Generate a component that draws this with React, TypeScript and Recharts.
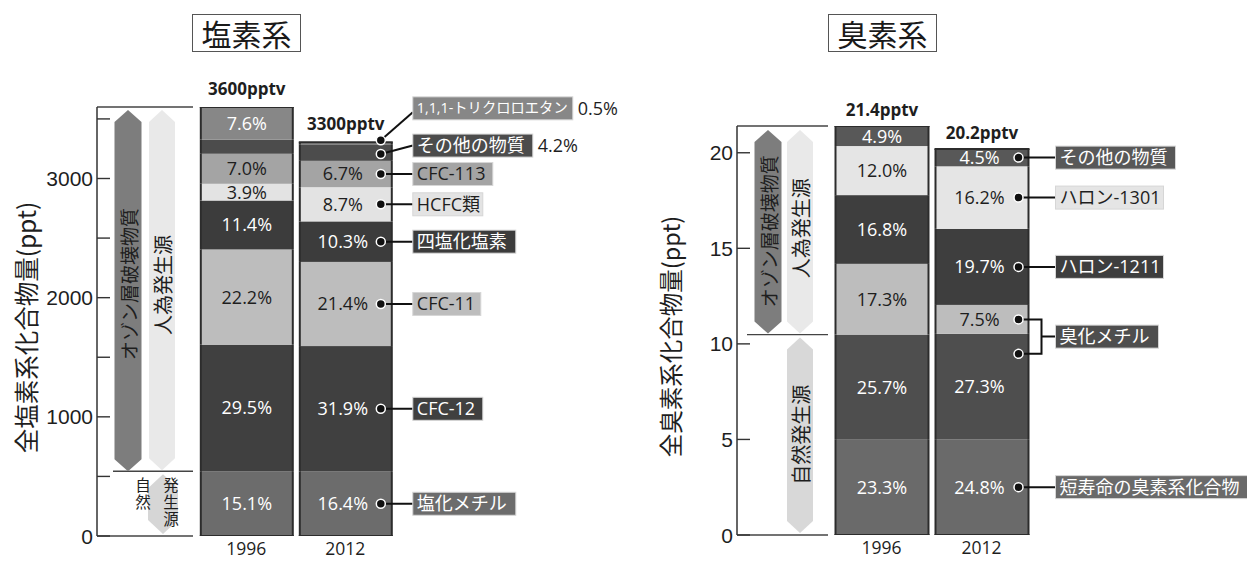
import React from "react";
import { BarChart, Bar, XAxis, YAxis, LabelList, ReferenceArea } from "recharts";

const years = ["1996", "2012"];

// 塩素系 (stacked bottom -> top)
const clTotals = [3600, 3300];
const clNames = ["塩化メチル", "CFC-12", "CFC-11", "四塩化塩素", "HCFC類", "CFC-113", "その他の物質", "1,1,1-トリクロロエタン"];
const clPct1996 = [15.1, 29.5, 22.2, 11.4, 3.9, 7.0, 3.3, 7.6];
const clPct2012 = [16.4, 31.9, 21.4, 10.3, 8.7, 6.7, 4.2, 0.5];
const clTicks = [0, 500, 1000, 1500, 2000, 2500, 3000, 3500];

// 臭素系 (stacked bottom -> top)
const brTotals = [21.4, 20.2];
const brNames = ["短寿命の臭素系化合物", "臭化メチル(自然)", "臭化メチル", "ハロン-1211", "ハロン-1301", "その他の物質"];
const brPct1996 = [23.3, 25.7, 17.3, 16.8, 12.0, 4.9];
const brPct2012 = [24.8, 27.3, 7.5, 19.7, 16.2, 4.5];
const brTicks = [0, 5, 10, 15, 20];

// styling
const FONT = "'Open Sans', 'Noto Sans CJK JP', sans-serif";
const JP = "'Noto Sans CJK JP', sans-serif";
const TICKFONT = "'Liberation Sans', Arial, sans-serif";
const INK = "#1e1e1e";
const EDGE = "#2c2c2c";

const clFill = ["#6c6c6c", "#404040", "#bdbdbd", "#3c3c3c", "#e3e3e3", "#a4a4a4", "#4c4c4c", "#878787"];
const clInkDark = [false, false, true, false, true, true, false, false];
const clHide1996 = [false, false, false, false, false, false, true, false];
const clOutside = [false, false, false, false, false, false, true, true];
const clTagW = [103, 70, 68, 103, 70, 80, 120, 160];
const clTagFont = [18, 18, 18, 18, 18, 18, 18, 14.3];
const clDotDy = [0, 0, 0, 0, 0, 0, 1.5, -3];
const clTagDy = [0, 0, 0, 0, 0, 0, -8.5, -32];

const brFill = ["#6a6a6a", "#4e4e4e", "#bdbdbd", "#3e3e3e", "#e5e5e5", "#585858"];
const brInkDark = [false, false, true, false, true, false];
const brTagFill = ["#6a6a6a", "#4e4e4e", "#4e4e4e", "#3e3e3e", "#e5e5e5", "#585858"];
const brTagDark = [false, false, false, false, true, false];
const brTagW = [192, 0, 103, 108, 108, 120];

const CL_AXIS = 97;
const BR_AXIS = 107;

const buildRows = (totals: number[], pcts: number[][]) =>
  years.map((year, j) => {
    const row: Record<string, number | string> = { year };
    pcts[j].forEach((p, i) => {
      row[`s${i}`] = (totals[j] * p) / 100;
    });
    return row;
  });

const clRows = buildRows(clTotals, [clPct1996, clPct2012]);
const brRows = buildRows(brTotals, [brPct1996, brPct2012]);
const clNatural = (clTotals[0] * clPct1996[0]) / 100;
const brNatural = (brTotals[0] * (brPct1996[0] + brPct1996[1])) / 100;

const fmt = (v: number) => `${v.toFixed(1)}%`;

const hex = (cx: number, w: number, top: number, bottom: number, tip = 12) =>
  `${cx},${top} ${cx + w / 2},${top + tip} ${cx + w / 2},${bottom - tip} ${cx},${bottom} ${cx - w / 2},${bottom - tip} ${cx - w / 2},${top + tip}`;

const segShape = (fill: string, top: boolean, bottom: boolean) => (p: any) => {
  const { x, y, width, height } = p;
  if (width == null || height == null) return <g />;
  const b = y + height;
  return (
    <g>
      <rect x={x} y={y} width={width} height={height} fill={fill} />
      <line x1={x} x2={x} y1={y} y2={b} stroke={EDGE} strokeWidth={2} />
      <line x1={x + width} x2={x + width} y1={y} y2={b} stroke={EDGE} strokeWidth={2} />
      {top && <line x1={x - 1} x2={x + width + 1} y1={y} y2={y} stroke={EDGE} strokeWidth={2} />}
      {bottom && <line x1={x - 1} x2={x + width + 1} y1={b} y2={b} stroke={EDGE} strokeWidth={2} />}
    </g>
  );
};

const Dot = ({ cx, cy }: { cx: number; cy: number }) => (
  <circle cx={cx} cy={cy} r={4.5} fill="#111" stroke="#fff" strokeWidth={1.5} />
);

const Tag = ({ x, cy, w, fill, dark, size, text }: any) => (
  <g>
    <rect x={x} y={cy - 11.5} width={w} height={23} fill={fill} stroke="#d6d6d6" strokeWidth={1} />
    <text x={x + 4} y={cy} dy="0.36em" fontSize={size} fill={dark ? INK : "#fff"} fontFamily={FONT}>
      {text}
    </text>
  </g>
);

const pctText = (key: string, x: number, cy: number, dark: boolean, anchor = "middle") => (
  <text key={key} x={x} y={cy} dy="0.36em" textAnchor={anchor} fontSize={18} fill={dark ? INK : "#fff"} fontFamily={FONT}>
    {key}
  </text>
);

const clLabel = (i: number) => (props: any) => {
  const vb = props.viewBox ?? props;
  const { x, y, width: w, height: h } = vb;
  const j = props.index ?? (x > 296 ? 1 : 0);
  const cy = y + h / 2;
  const parts: React.ReactNode[] = [];
  if (i === clNames.length - 1) {
    parts.push(
      <text key="tot" x={x + w / 2} y={y - 12} textAnchor="middle" fontSize={17} fontWeight={700} fill={INK} fontFamily={FONT}>
        {`${clTotals[j]}pptv`}
      </text>
    );
  }
  if (j === 0) {
    if (!clHide1996[i]) parts.push(pctText(fmt(clPct1996[i]), x + w / 2, cy, clInkDark[i]));
  } else {
    const dotX = x + w - 11;
    const dotY = cy + clDotDy[i];
    const tagX = x + w + 21;
    const tagY = dotY + clTagDy[i];
    if (!clOutside[i]) parts.push(pctText(fmt(clPct2012[i]), x + w / 2 - 3, cy, clInkDark[i]));
    parts.push(<line key="ln" x1={dotX} y1={dotY} x2={tagX} y2={tagY + (i === 7 ? 4 : 0)} stroke="#111" strokeWidth={2} />);
    parts.push(<Dot key="dot" cx={dotX} cy={dotY} />);
    parts.push(
      <Tag key="tag" x={tagX} cy={tagY} w={clTagW[i]} fill={clFill[i]} dark={clInkDark[i]} size={clTagFont[i]} text={clNames[i]} />
    );
    if (clOutside[i]) {
      parts.push(
        <text key="out" x={tagX + clTagW[i] + 5} y={tagY} dy="0.36em" fontSize={18} fill={INK} fontFamily={FONT}>
          {fmt(clPct2012[i])}
        </text>
      );
    }
  }
  return <g>{parts}</g>;
};

const brLabel = (i: number) => (props: any) => {
  const vb = props.viewBox ?? props;
  const { x, y, width: w, height: h } = vb;
  const j = props.index ?? (x > 301 ? 1 : 0);
  const cy = y + h / 2;
  const parts: React.ReactNode[] = [];
  if (i === brNames.length - 1) {
    parts.push(
      <text key="tot" x={x + w / 2} y={y - 10} textAnchor="middle" fontSize={17} fontWeight={700} fill={INK} fontFamily={FONT}>
        {`${brTotals[j].toFixed(1)}pptv`}
      </text>
    );
  }
  if (j === 0) {
    parts.push(pctText(fmt(brPct1996[i]), x + w / 2, cy, brInkDark[i]));
  } else {
    parts.push(pctText(fmt(brPct2012[i]), x + w / 2 - 2.5, cy, brInkDark[i]));
    if (i === 1) return <g>{parts}</g>;
    const dotX = x + w - 10;
    const tagX = x + w + 27;
    if (i === 2) {
      const cy2 = y + h + 20;
      const bx = x + w + 13;
      const mid = (cy + cy2) / 2;
      parts.push(
        <path key="br" d={`M${dotX},${cy} H${bx} V${cy2} H${dotX} M${bx},${mid} H${tagX}`} fill="none" stroke="#111" strokeWidth={2} />
      );
      parts.push(<Dot key="d1" cx={dotX} cy={cy} />);
      parts.push(<Dot key="d2" cx={dotX} cy={cy2} />);
      parts.push(<Tag key="tag" x={tagX} cy={mid} w={brTagW[i]} fill={brTagFill[i]} dark={brTagDark[i]} size={18} text={brNames[i]} />);
    } else {
      parts.push(<line key="ln" x1={dotX} y1={cy} x2={tagX} y2={cy} stroke="#111" strokeWidth={2} />);
      parts.push(<Dot key="dot" cx={dotX} cy={cy} />);
      parts.push(<Tag key="tag" x={tagX} cy={cy} w={brTagW[i]} fill={brTagFill[i]} dark={brTagDark[i]} size={18} text={brNames[i]} />);
    }
  }
  return <g>{parts}</g>;
};

const yTick = (axisX: number, labelEvery: number) => (p: any) => {
  const { y, payload } = p;
  const v = payload.value;
  return (
    <g>
      <line x1={axisX} x2={axisX + 13} y1={y} y2={y} stroke="#333" strokeWidth={1.4} />
      {v % labelEvery === 0 && (
        <text x={axisX - 4} y={y} dy="0.36em" textAnchor="end" fontSize={21} fill={INK} fontFamily={TICKFONT}>
          {v}
        </text>
      )}
    </g>
  );
};

const xTick = (p: any) => (
  <text x={p.x} y={p.y} dy={19} textAnchor="middle" fontSize={17.5} fill={INK} fontFamily={FONT}>
    {p.payload.value}
  </text>
);

const vText = (cx: number, cy: number, size: number, text: string) => (
  <text
    transform={`translate(${cx},${cy}) rotate(-90)`}
    textAnchor="middle"
    dominantBaseline="central"
    fontSize={size}
    fill={INK}
    fontFamily={JP}
  >
    {text}
  </text>
);

// upright vertical column of characters (縦書き)
const colText = (x: number, y: number, size: number, text: string) => (
  <text
    x={x}
    y={y}
    fontSize={size}
    fill={INK}
    fontFamily={JP}
    letterSpacing={1.5}
    style={{ writingMode: "vertical-rl" }}
  >
    {text}
  </text>
);

// left chart annotations
const clUpper = (p: any) => {
  const top = p.y;
  const bottom = p.y + p.height;
  const mid = (top + bottom) / 2;
  return (
    <g>
      <line x1={CL_AXIS} x2={193} y1={top} y2={top} stroke="#444" strokeWidth={1.4} />
      <line x1={113} x2={193} y1={bottom} y2={bottom} stroke="#444" strokeWidth={1.4} />
      <polygon points={hex(128, 27, top + 3, bottom)} fill="#7d7d7d" />
      <polygon points={hex(162, 26, top + 3, bottom - 1)} fill="#e9e9e9" />
      {vText(128, mid - 5, 19, "オゾン層破壊物質")}
      {vText(162, mid - 4, 20, "人為発生源")}
    </g>
  );
};

const clLower = (p: any) => {
  const top = p.y;
  const bottom = p.y + p.height;
  return (
    <g>
      <line x1={CL_AXIS} x2={193} y1={bottom} y2={bottom} stroke="#444" strokeWidth={1.4} />
      <polygon points={hex(163, 30, top + 3, bottom - 2, 14)} fill="#d6d6d6" />
      {colText(143, top + 6, 15.5, "自然")}
      {colText(171, top + 6, 15.5, "発生源")}
    </g>
  );
};

const clAll = (p: any) => vText(25, p.y + p.height / 2 + 6, 24.5, "全塩素系化合物量(ppt)");

// right chart annotations
const brUpper = (p: any) => {
  const top = p.y;
  const bottom = p.y + p.height;
  const mid = (top + bottom) / 2;
  return (
    <g>
      <line x1={BR_AXIS} x2={198} y1={top} y2={top} stroke="#444" strokeWidth={1.4} />
      <line x1={117} x2={198} y1={bottom} y2={bottom} stroke="#444" strokeWidth={1.4} />
      <polygon points={hex(138, 27, top + 4, bottom - 1)} fill="#7d7d7d" />
      <polygon points={hex(170, 26, top + 4, bottom - 1)} fill="#e9e9e9" />
      {vText(138, mid + 1, 19, "オゾン層破壊物質")}
      {vText(170, mid - 2, 20, "人為発生源")}
    </g>
  );
};

const brLower = (p: any) => {
  const top = p.y;
  const bottom = p.y + p.height;
  return (
    <g>
      <line x1={BR_AXIS} x2={198} y1={bottom} y2={bottom} stroke="#444" strokeWidth={1.4} />
      <polygon points={hex(170, 26, top + 3, bottom - 2)} fill="#d8d8d8" />
      {vText(170, (top + bottom) / 2, 20, "自然発生源")}
    </g>
  );
};

const brAll = (p: any) => vText(40, p.y + p.height / 2 + 6, 23.5, "全臭素系化合物量(ppt)");

const titleStyle = (left: number): React.CSSProperties => ({
  position: "absolute",
  left,
  top: 14,
  width: 109,
  height: 38,
  boxSizing: "border-box",
  border: "1.5px solid #555",
  display: "flex",
  alignItems: "center",
  justifyContent: "center",
  fontSize: 30,
  lineHeight: 1,
  fontFamily: JP,
  color: "#1a1a1a",
});

export default function App() {
  return (
    <div style={{ position: "absolute", left: 0, top: 0, width: 1247, height: 561, background: "#fff" }}>
      <div style={{ position: "absolute", left: 0, top: 0 }}>
        <BarChart width={630} height={561} data={clRows} margin={{ top: 107, right: 0, bottom: 0, left: 0 }}>
          <XAxis
            dataKey="year"
            type="category"
            height={25}
            axisLine={false}
            tickLine={false}
            tickSize={0}
            tickMargin={0}
            padding={{ left: 99.8, right: 235.2 }}
            tick={xTick}
            interval={0}
          />
          <YAxis
            type="number"
            domain={[0, 3600]}
            ticks={clTicks}
            width={CL_AXIS}
            axisLine={{ stroke: "#333", strokeWidth: 1.5 }}
            tickLine={false}
            tick={yTick(CL_AXIS, 1000)}
            interval={0}
            allowDataOverflow
          />
          <ReferenceArea y1={0} y2={clTotals[0]} shape={clAll} ifOverflow="visible" />
          <ReferenceArea y1={clNatural} y2={clTotals[0]} shape={clUpper} ifOverflow="visible" />
          <ReferenceArea y1={0} y2={clNatural} shape={clLower} ifOverflow="visible" />
          {clNames.map((name, i) => (
            <Bar
              key={name}
              dataKey={`s${i}`}
              stackId="a"
              barSize={92}
              isAnimationActive={false}
              shape={segShape(clFill[i], i === clNames.length - 1, i === 0)}
            >
              <LabelList dataKey={`s${i}`} content={clLabel(i)} />
            </Bar>
          ))}
        </BarChart>
      </div>
      <div style={{ position: "absolute", left: 630, top: 0 }}>
        <BarChart width={617} height={561} data={brRows} margin={{ top: 126, right: 0, bottom: 0, left: 0 }}>
          <XAxis
            dataKey="year"
            type="category"
            height={26}
            axisLine={false}
            tickLine={false}
            tickSize={0}
            tickMargin={0}
            padding={{ left: 94.5, right: 215.5 }}
            tick={xTick}
            interval={0}
          />
          <YAxis
            type="number"
            domain={[0, 21.4]}
            ticks={brTicks}
            width={BR_AXIS}
            axisLine={{ stroke: "#333", strokeWidth: 1.5 }}
            tickLine={false}
            tick={yTick(BR_AXIS, 5)}
            interval={0}
            allowDataOverflow
          />
          <ReferenceArea y1={0} y2={brTotals[0]} shape={brAll} ifOverflow="visible" />
          <ReferenceArea y1={brNatural} y2={brTotals[0]} shape={brUpper} ifOverflow="visible" />
          <ReferenceArea y1={0} y2={brNatural} shape={brLower} ifOverflow="visible" />
          {brNames.map((name, i) => (
            <Bar
              key={name}
              dataKey={`s${i}`}
              stackId="a"
              barSize={93}
              isAnimationActive={false}
              shape={segShape(brFill[i], i === brNames.length - 1, i === 0)}
            >
              <LabelList dataKey={`s${i}`} content={brLabel(i)} />
            </Bar>
          ))}
        </BarChart>
      </div>
      <div style={titleStyle(192)}>塩素系</div>
      <div style={titleStyle(828)}>臭素系</div>
    </div>
  );
}
